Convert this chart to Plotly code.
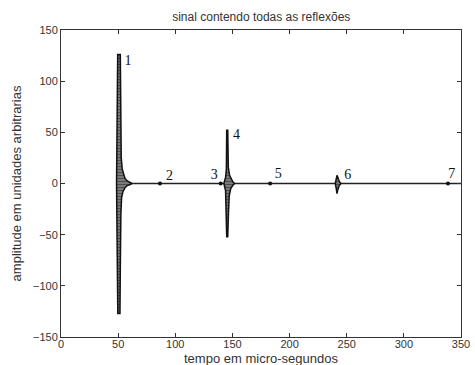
import plotly.graph_objects as go

# Envelopes of the echoes (time in micro-seconds, amplitude in arbitrary units)
p1_t_up = [48.6, 48.9, 49.4, 49.6, 51.9, 52.1, 52.7, 53.6, 54.6, 56.0, 58.0, 60.5, 62.0]
p1_a_up = [0, 59, 60, 126, 126, 60, 25, 14, 9, 5, 2.5, 1, 0]
p1_t_lo = [48.6, 48.9, 49.5, 49.7, 51.6, 51.9, 52.4, 53.0, 54.2, 56.0, 58.0, 60.5, 62.0]
p1_a_lo = [0, -82, -82, -127, -127, -82, -30, -14, -8, -4, -2, -1, 0]

p4_t_up = [142.5, 144.0, 144.7, 145.0, 145.9, 146.4, 147.5, 149.0, 150.5, 152.0]
p4_a_up = [0, 6, 14, 52, 52, 16, 8, 4, 1.5, 0]
p4_t_lo = [142.5, 144.0, 144.7, 145.0, 145.9, 146.5, 147.2, 148.5, 150.5, 152.0]
p4_a_lo = [0, -7, -20, -52, -52, -30, -12, -5, -1.5, 0]

p6_t_up = [240.0, 241.0, 241.5, 242.2, 243.5, 245.0]
p6_a_up = [0, 5, 8, 6, 2, 0]
p6_t_lo = [240.0, 241.0, 241.5, 242.2, 243.5, 245.0]
p6_a_lo = [0, -6, -10, -6, -2, 0]

# Weak echoes seen as small blips on the baseline
blip_t = [86.6, 139.7, 183.0, 338.6]
blip_a = [0, 0, 0, 0]

# Echo numbers and where they are written
label_text = ["1", "2", "3", "4", "5", "6", "7"]
label_t = [58.6, 95.0, 134.0, 153.5, 190.0, 251.0, 342.0]
label_a = [119, 7, 8, 47, 9, 8, 9]

baseline_t = [49.0, 350.0]
baseline_a = [0, 0]

x_ticks = [0, 50, 100, 150, 200, 250, 300, 350]
y_ticks = [-150, -100, -50, 0, 50, 100, 150]

TICK_FONT = dict(family="Liberation Sans", size=11, color="#333")
TITLE_FONT = dict(family="Liberation Sans", size=12, color="#333")
LABEL_FONT = dict(family="Liberation Sans", size=13, color="#333")

fig = go.Figure()

fig.add_trace(go.Scatter(x=baseline_t, y=baseline_a, mode="lines",
                         line=dict(color="#222", width=1.6), hoverinfo="skip"))

for tu, au, tl, al in [(p1_t_up, p1_a_up, p1_t_lo, p1_a_lo),
                       (p4_t_up, p4_a_up, p4_t_lo, p4_a_lo),
                       (p6_t_up, p6_a_up, p6_t_lo, p6_a_lo)]:
    xs = tu + tl[::-1]
    ys = au + al[::-1]
    fig.add_trace(go.Scatter(
        x=xs, y=ys, mode="lines", fill="toself",
        fillcolor="#666",
        fillpattern=dict(shape="-", fgcolor="#111", bgcolor="#888", size=3, solidity=0.5),
        line=dict(color="#111", width=1.5), hoverinfo="skip"))

fig.add_trace(go.Scatter(x=blip_t, y=blip_a, mode="markers",
                         marker=dict(color="#111", size=4), hoverinfo="skip"))

fig.add_trace(go.Scatter(x=label_t, y=label_a, mode="text", text=label_text,
                         textposition="middle center",
                         textfont=dict(family="Liberation Serif", size=14, color="#111"),
                         hoverinfo="skip"))

axis_common = dict(showgrid=False, zeroline=False, showline=True, linecolor="#333",
                   linewidth=1, mirror="ticks", ticks="inside", ticklen=4,
                   tickcolor="#333", automargin=False, tickfont=TICK_FONT)

fig.update_layout(
    width=475, height=365,
    margin=dict(l=61, r=14, t=30, b=28),
    paper_bgcolor="white", plot_bgcolor="white",
    showlegend=False,
    title=dict(text="sinal contendo todas as reflexões", x=0.55, xanchor="center",
               y=0.955, yanchor="middle", font=TITLE_FONT),
    xaxis=dict(range=[0, 350], tickvals=x_ticks, ticklabelstandoff=-3, **axis_common),
    yaxis=dict(range=[-150, 150], tickvals=y_ticks,
               title=dict(text="amplitude em unidades arbitrarias", standoff=8,
                          font=LABEL_FONT),
               **axis_common),
    annotations=[dict(text="tempo em micro-segundos", xref="paper", yref="paper",
                      x=0.5, y=0, yshift=-21, xanchor="center", yanchor="middle",
                      showarrow=False, font=LABEL_FONT)],
)

fig.write_html("out.html")
